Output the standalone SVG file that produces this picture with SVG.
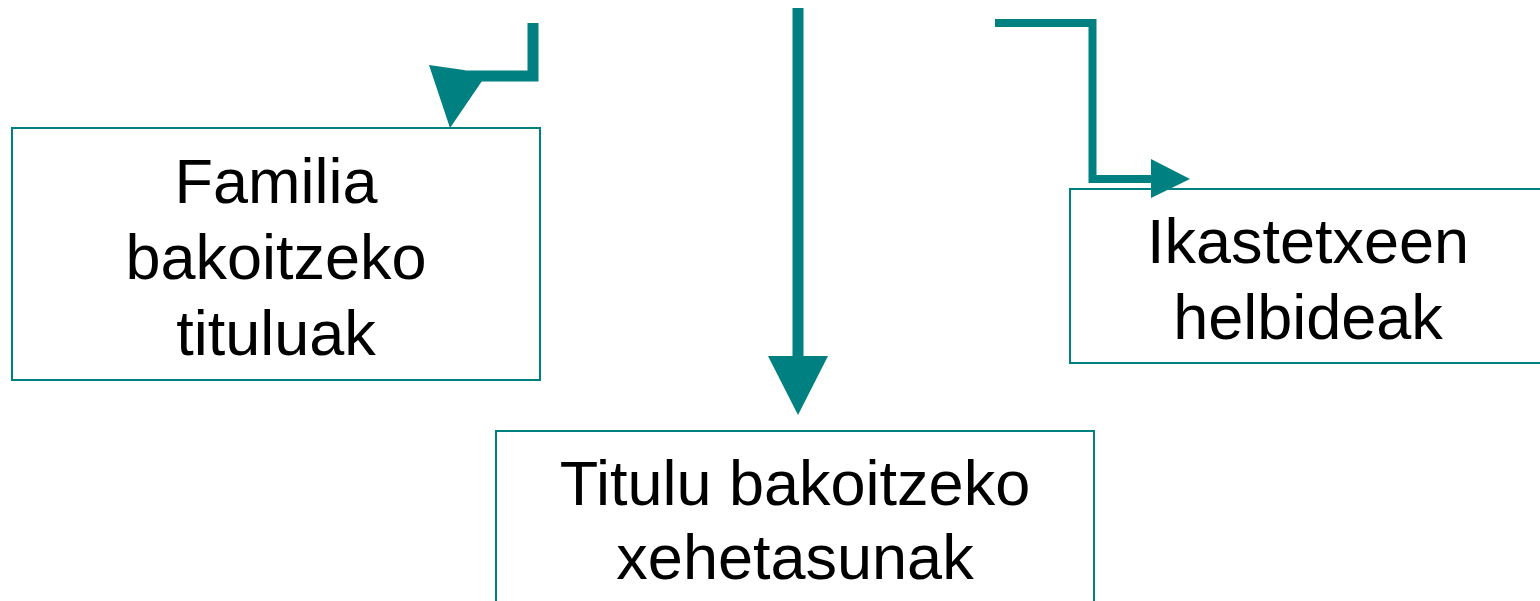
<svg xmlns="http://www.w3.org/2000/svg" width="1540" height="601" viewBox="0 0 1540 601">
<style>
.box{fill:#ffffff;stroke:#008080;stroke-width:2}
.lbl{font-family:"Liberation Sans",Arial,sans-serif;font-size:63px;fill:#000000;text-anchor:middle}
.ln{fill:none;stroke:#008080;stroke-linejoin:miter}
.hd{fill:#008080}
</style>
<rect width="1540" height="601" fill="#ffffff"/>
<g id="node-familia">
<rect class="box" x="12" y="128" width="528" height="252"/>
<text class="lbl" x="276" y="203">Familia</text>
<text class="lbl" x="276" y="279">bakoitzeko</text>
<text class="lbl" x="276" y="355">tituluak</text>
</g>
<g id="node-titulu">
<rect class="box" x="496" y="431" width="598" height="190"/>
<text class="lbl" x="795" y="505">Titulu bakoitzeko</text>
<text class="lbl" x="795" y="579">xehetasunak</text>
</g>
<g id="node-ikastetxeen">
<rect class="box" x="1070" y="189" width="476" height="174"/>
<text class="lbl" x="1308" y="263">Ikastetxeen</text>
<text class="lbl" x="1308" y="339">helbideak</text>
</g>
<g id="connectors">
<polyline class="ln" stroke-width="11" points="533,23 533,76 462,76"/>
<polygon class="hd" points="429,65 464,70 482,81 450,128"/>
<line class="ln" stroke-width="11" x1="798" y1="8" x2="798" y2="358"/>
<polygon class="hd" points="768,356 828,356 798,415"/>
<polyline class="ln" stroke-width="8" points="995,23 1092.5,23 1092.5,179 1153,179"/>
<polygon class="hd" points="1151,159 1190,179 1151,198"/>
</g>
</svg>
